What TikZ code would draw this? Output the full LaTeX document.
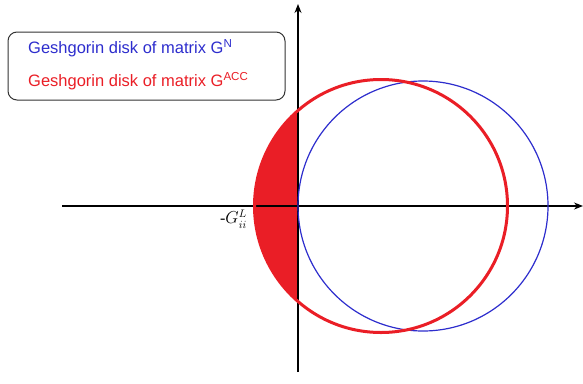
\documentclass[tikz,border=0pt]{standalone}
\usepackage{fontspec}
\setmainfont{Liberation Sans}
\newfontfamily\labelfont{Liberation Serif}
\usetikzlibrary{arrows.meta}
\definecolor{diskred}{RGB}{234,30,38}
\definecolor{diskblue}{RGB}{45,45,205}
\begin{document}
\begin{tikzpicture}[x=1pt,y=-1pt,
  axis/.style={line width=1.2pt,-{Stealth[length=9pt,width=7pt]}},
  legendbox/.style={draw=black!80,line width=1pt,rounded corners=9pt,minimum width=277pt,minimum height=68pt},
  legendtext/.style={font=\fontsize{16.5}{18}\selectfont,anchor=west,inner sep=0pt}]
\useasboundingbox (0,0) rectangle (583,383);
% filled part of red disk left of the y-axis
\begin{scope}
  \clip (0,0) rectangle (298,383);
  \fill[diskred] (381,206) circle[radius=126.5];
\end{scope}
% axes
\coordinate (xl) at (62,206);
\coordinate (xr) at (583,206);
\coordinate (yb) at (298,372);
\coordinate (yt) at (298,4);
\draw[axis] (xl) -- (xr);
\draw[axis] (yb) -- (yt);
% circles
\draw[diskblue,line width=1.2pt] (423,206) circle[radius=125];
\draw[diskred,line width=3pt] (381,206) circle[radius=126.5];
% label
\node[anchor=north east,inner sep=0pt,font=\fontsize{16}{18}\selectfont] (lab) at (247,210) {{\labelfont\itshape -}$G_{ii}^{L}$};
% legend
\node[legendbox] (legend) at (146.5,66) {};
\node[legendtext,text=diskblue] (l1) at (28,48) {Geshgorin disk of matrix G\textsuperscript{N}};
\node[legendtext,text=diskred] (l2) at (28,81) {Geshgorin disk of matrix G\textsuperscript{ACC}};
\end{tikzpicture}
\end{document}
